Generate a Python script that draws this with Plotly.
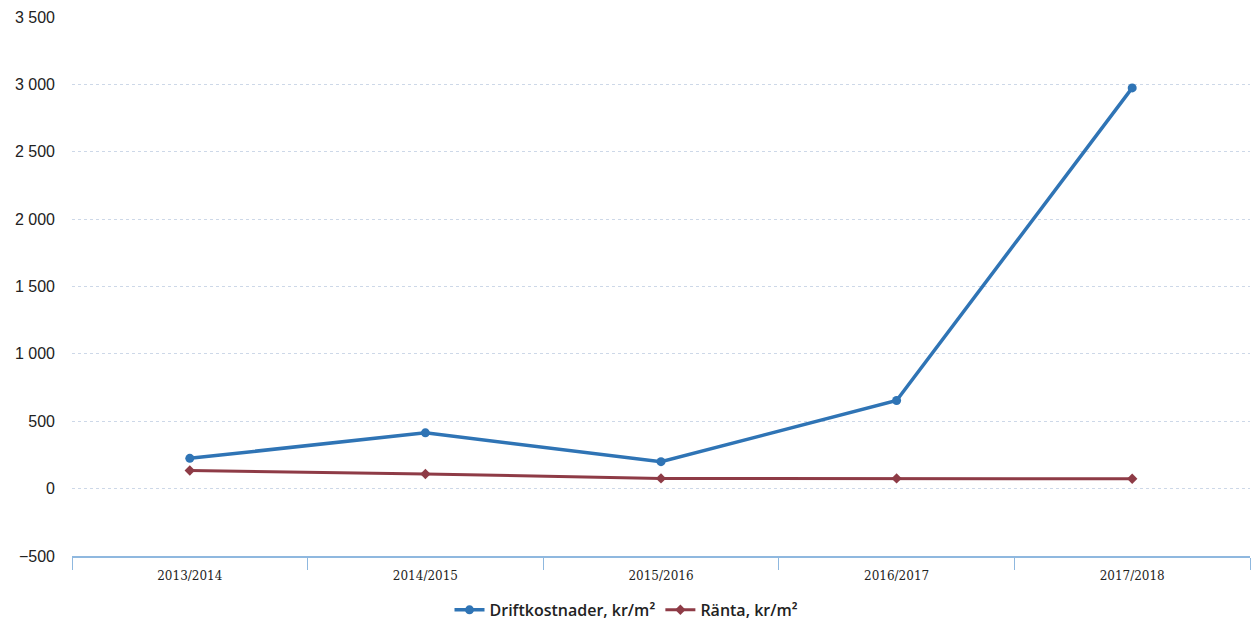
import plotly.graph_objects as go

categories = ["2013/2014", "2014/2015", "2015/2016", "2016/2017", "2017/2018"]
drift = [225, 414, 200, 654, 2974]
ranta = [134, 109, 76, 76, 73]
y_ticks = [-500, 0, 500, 1000, 1500, 2000, 2500, 3000, 3500]

fig = go.Figure()
fig.add_trace(go.Scatter(
    x=categories, y=drift, name="Driftkostnader, kr/m²", mode="lines+markers",
    line=dict(color="#2f74b5", width=3.5), marker=dict(size=9, color="#2f74b5")))
fig.add_trace(go.Scatter(
    x=categories, y=ranta, name="Ränta, kr/m²", mode="lines+markers",
    line=dict(color="#8e3b46", width=3), marker=dict(symbol="diamond", size=8, color="#8e3b46")))

fig.update_layout(
    width=1253, height=623,
    margin=dict(l=72, r=3, t=17, b=67, autoexpand=False),
    plot_bgcolor="white", paper_bgcolor="white",
    separators=", ",
    showlegend=True,
    legend=dict(orientation="h", xref="container", x=0.5, xanchor="center",
                yref="container", y=0.021, yanchor="middle",
                font=dict(family="Open Sans", size=16, color="#222", weight=600)),
    xaxis=dict(type="category", range=[-0.5, 4.5], tickson="boundaries",
               ticks="outside", ticklen=12, tickcolor="#8fb8df", tickwidth=1,
               showline=True, linecolor="#8fb8df", linewidth=1.5,
               showgrid=False, ticklabelstandoff=8,
               tickfont=dict(family="DejaVu Serif", size=12, color="#222")),
    yaxis=dict(range=[-500, 3500], tickvals=y_ticks, tickformat=",d",
               showgrid=True, gridcolor="#cdd8e8", griddash="dot", gridwidth=1,
               zeroline=False, showline=False,
               tickfont=dict(family="Liberation Sans", size=16, color="#222"),
               ticklabelstandoff=16),
)
fig.write_html("out.html")
